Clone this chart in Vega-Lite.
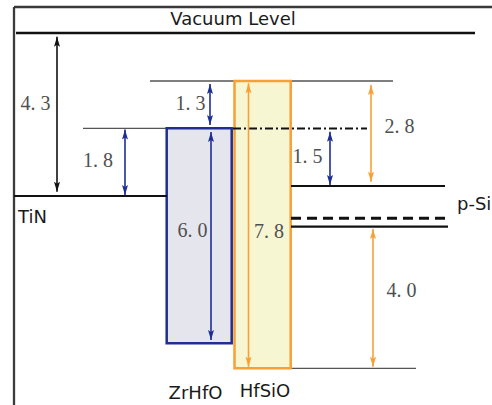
{
  "$schema": "https://vega.github.io/schema/vega-lite/v6.json",
  "width": 492,
  "height": 405,
  "padding": 0,
  "autosize": "none",
  "background": "white",
  "config": {"view": {"stroke": null}},
  "datasets": {
    "segments": [
      {"kind": "frame", "x1": 14, "x2": 492, "y1": 0.686, "y2": 0.686},
      {"kind": "frame", "x1": 14, "x2": 14, "y1": 0.686, "y2": -9.815},
      {"kind": "vacuum", "x1": 16, "x2": 475, "y1": 0, "y2": 0},
      {"kind": "black", "x1": 14, "x2": 167, "y1": -4.30, "y2": -4.30},
      {"kind": "thin", "x1": 83, "x2": 232, "y1": -2.515, "y2": -2.515},
      {"kind": "thin", "x1": 150, "x2": 393, "y1": -1.266, "y2": -1.266},
      {"kind": "thin", "x1": 291, "x2": 416, "y1": -8.847, "y2": -8.847},
      {"kind": "dashdot", "x1": 233, "x2": 367, "y1": -2.52, "y2": -2.52},
      {"kind": "black", "x1": 291, "x2": 445, "y1": -4.037, "y2": -4.037},
      {"kind": "dashed", "x1": 291, "x2": 445, "y1": -4.889, "y2": -4.889},
      {"kind": "black", "x1": 291, "x2": 448, "y1": -5.111, "y2": -5.111}
    ],
    "boxes": [
      {"name": "ZrHfO", "x1": 166.7, "x2": 231.7, "top": -2.515, "bottom": -8.187},
      {"name": "HfSiO", "x1": 234.5, "x2": 290.7, "top": -1.266, "bottom": -8.847}
    ],
    "arrows": [
      {"group": "TiN", "x": 57, "top": -0.097, "bottom": -4.19},
      {"group": "ZrHfO", "x": 125, "top": -2.546, "bottom": -4.274},
      {"group": "ZrHfO", "x": 210, "top": -1.346, "bottom": -2.427},
      {"group": "ZrHfO", "x": 211, "top": -2.612, "bottom": -8.10},
      {"group": "ZrHfO", "x": 330, "top": -2.604, "bottom": -4.011},
      {"group": "HfSiO", "x": 248.5, "top": -1.327, "bottom": -8.804},
      {"group": "HfSiO", "x": 371, "top": -1.372, "bottom": -3.923},
      {"group": "HfSiO", "x": 373, "top": -5.172, "bottom": -8.804}
    ],
    "numbers": [
      {"text": "4. 3", "x": 35.5, "y": -2.032},
      {"text": "1. 3", "x": 190.5, "y": -2.032},
      {"text": "1. 8", "x": 98, "y": -3.528},
      {"text": "6. 0", "x": 192.5, "y": -5.375},
      {"text": "7. 8", "x": 269, "y": -5.417},
      {"text": "1. 5", "x": 307.5, "y": -3.438},
      {"text": "2. 8", "x": 399.5, "y": -2.646},
      {"text": "4. 0", "x": 401.5, "y": -6.974}
    ],
    "names": [
      {"text": "Vacuum Level", "x": 233, "y": 0.211, "pos": "center"},
      {"text": "ZrHfO", "x": 195.5, "y": -9.657, "pos": "center"},
      {"text": "HfSiO", "x": 265, "y": -9.604, "pos": "center"},
      {"text": "TiN", "x": 18, "y": -5.013, "pos": "left"},
      {"text": "p-Si", "x": 457, "y": -4.670, "pos": "left"}
    ]
  },
  "layer": [
    {
      "data": {"name": "segments"},
      "transform": [{"filter": "datum.kind === 'thin'"}],
      "mark": {"type": "rule", "color": "#555555", "strokeWidth": 1.3},
      "encoding": {
        "x": {"field": "x1", "type": "quantitative", "scale": {"domain": [0, 492], "nice": false, "zero": false}, "axis": null},
        "x2": {"field": "x2"},
        "y": {"field": "y1", "type": "quantitative", "scale": {"domain": [-9.815, 0.871], "nice": false, "zero": false}, "axis": null},
        "y2": {"field": "y2"}
      }
    },
    {
      "data": {"name": "boxes"},
      "transform": [{"filter": "datum.name === 'ZrHfO'"}],
      "mark": {"type": "rect", "fill": "#e5e5ed", "stroke": "#1f2e93", "strokeWidth": 2.5},
      "encoding": {
        "x": {"field": "x1", "type": "quantitative", "scale": {"domain": [0, 492], "nice": false, "zero": false}, "axis": null},
        "x2": {"field": "x2"},
        "y": {"field": "top", "type": "quantitative", "scale": {"domain": [-9.815, 0.871], "nice": false, "zero": false}, "axis": null},
        "y2": {"field": "bottom"}
      }
    },
    {
      "data": {"name": "boxes"},
      "transform": [{"filter": "datum.name === 'HfSiO'"}],
      "mark": {"type": "rect", "fill": "#f6f6d3", "stroke": "#f7a035", "strokeWidth": 2.5},
      "encoding": {
        "x": {"field": "x1", "type": "quantitative", "scale": {"domain": [0, 492], "nice": false, "zero": false}, "axis": null},
        "x2": {"field": "x2"},
        "y": {"field": "top", "type": "quantitative", "scale": {"domain": [-9.815, 0.871], "nice": false, "zero": false}, "axis": null},
        "y2": {"field": "bottom"}
      }
    },
    {
      "data": {"name": "segments"},
      "transform": [{"filter": "datum.kind === 'frame'"}],
      "mark": {"type": "rule", "color": "#3a3a3a", "strokeWidth": 2.3},
      "encoding": {
        "x": {"field": "x1", "type": "quantitative", "scale": {"domain": [0, 492], "nice": false, "zero": false}, "axis": null},
        "x2": {"field": "x2"},
        "y": {"field": "y1", "type": "quantitative", "scale": {"domain": [-9.815, 0.871], "nice": false, "zero": false}, "axis": null},
        "y2": {"field": "y2"}
      }
    },
    {
      "data": {"name": "segments"},
      "transform": [{"filter": "datum.kind === 'vacuum'"}],
      "mark": {"type": "rule", "color": "#111111", "strokeWidth": 2.6},
      "encoding": {
        "x": {"field": "x1", "type": "quantitative", "scale": {"domain": [0, 492], "nice": false, "zero": false}, "axis": null},
        "x2": {"field": "x2"},
        "y": {"field": "y1", "type": "quantitative", "scale": {"domain": [-9.815, 0.871], "nice": false, "zero": false}, "axis": null},
        "y2": {"field": "y2"}
      }
    },
    {
      "data": {"name": "segments"},
      "transform": [{"filter": "datum.kind === 'black'"}],
      "mark": {"type": "rule", "color": "#111111", "strokeWidth": 2.2},
      "encoding": {
        "x": {"field": "x1", "type": "quantitative", "scale": {"domain": [0, 492], "nice": false, "zero": false}, "axis": null},
        "x2": {"field": "x2"},
        "y": {"field": "y1", "type": "quantitative", "scale": {"domain": [-9.815, 0.871], "nice": false, "zero": false}, "axis": null},
        "y2": {"field": "y2"}
      }
    },
    {
      "data": {"name": "segments"},
      "transform": [{"filter": "datum.kind === 'dashed'"}],
      "mark": {"type": "rule", "color": "#111111", "strokeWidth": 3, "strokeDash": [10, 6]},
      "encoding": {
        "x": {"field": "x1", "type": "quantitative", "scale": {"domain": [0, 492], "nice": false, "zero": false}, "axis": null},
        "x2": {"field": "x2"},
        "y": {"field": "y1", "type": "quantitative", "scale": {"domain": [-9.815, 0.871], "nice": false, "zero": false}, "axis": null},
        "y2": {"field": "y2"}
      }
    },
    {
      "data": {"name": "segments"},
      "transform": [{"filter": "datum.kind === 'dashdot'"}],
      "mark": {"type": "rule", "color": "#111111", "strokeWidth": 2, "strokeDash": [8, 3, 2, 3]},
      "encoding": {
        "x": {"field": "x1", "type": "quantitative", "scale": {"domain": [0, 492], "nice": false, "zero": false}, "axis": null},
        "x2": {"field": "x2"},
        "y": {"field": "y1", "type": "quantitative", "scale": {"domain": [-9.815, 0.871], "nice": false, "zero": false}, "axis": null},
        "y2": {"field": "y2"}
      }
    },
    {
      "data": {"name": "arrows"},
      "mark": {"type": "rule", "strokeWidth": 1.6},
      "encoding": {
        "x": {"field": "x", "type": "quantitative", "scale": {"domain": [0, 492], "nice": false, "zero": false}, "axis": null},
        "y": {"field": "top", "type": "quantitative", "scale": {"domain": [-9.815, 0.871], "nice": false, "zero": false}, "axis": null},
        "y2": {"field": "bottom"},
        "color": {"field": "group", "type": "nominal", "scale": {"domain": ["TiN", "ZrHfO", "HfSiO"], "range": ["#111111", "#1f2e93", "#f7a035"]}, "legend": null}
      }
    },
    {
      "data": {"name": "arrows"},
      "mark": {"type": "point", "filled": true, "opacity": 1, "size": 100, "strokeWidth": 0, "shape": "M0,0L0.6,2L0,1.6L-0.6,2Z"},
      "encoding": {
        "x": {"field": "x", "type": "quantitative", "scale": {"domain": [0, 492], "nice": false, "zero": false}, "axis": null},
        "y": {"field": "top", "type": "quantitative", "scale": {"domain": [-9.815, 0.871], "nice": false, "zero": false}, "axis": null},
        "color": {"field": "group", "type": "nominal", "scale": {"domain": ["TiN", "ZrHfO", "HfSiO"], "range": ["#111111", "#1f2e93", "#f7a035"]}, "legend": null}
      }
    },
    {
      "data": {"name": "arrows"},
      "mark": {"type": "point", "filled": true, "opacity": 1, "size": 100, "strokeWidth": 0, "shape": "M0,0L0.6,-2L0,-1.6L-0.6,-2Z"},
      "encoding": {
        "x": {"field": "x", "type": "quantitative", "scale": {"domain": [0, 492], "nice": false, "zero": false}, "axis": null},
        "y": {"field": "bottom", "type": "quantitative", "scale": {"domain": [-9.815, 0.871], "nice": false, "zero": false}, "axis": null},
        "color": {"field": "group", "type": "nominal", "scale": {"domain": ["TiN", "ZrHfO", "HfSiO"], "range": ["#111111", "#1f2e93", "#f7a035"]}, "legend": null}
      }
    },
    {
      "data": {"name": "numbers"},
      "mark": {"type": "text", "font": "Liberation Serif", "fontSize": 20, "color": "#505050", "align": "center", "baseline": "alphabetic"},
      "encoding": {
        "x": {"field": "x", "type": "quantitative", "scale": {"domain": [0, 492], "nice": false, "zero": false}, "axis": null},
        "y": {"field": "y", "type": "quantitative", "scale": {"domain": [-9.815, 0.871], "nice": false, "zero": false}, "axis": null},
        "text": {"field": "text"}
      }
    },
    {
      "data": {"name": "names"},
      "transform": [{"filter": "datum.pos === 'center'"}],
      "mark": {"type": "text", "font": "DejaVu Sans", "fontSize": 18, "color": "#1a1a1a", "align": "center", "baseline": "alphabetic"},
      "encoding": {
        "x": {"field": "x", "type": "quantitative", "scale": {"domain": [0, 492], "nice": false, "zero": false}, "axis": null},
        "y": {"field": "y", "type": "quantitative", "scale": {"domain": [-9.815, 0.871], "nice": false, "zero": false}, "axis": null},
        "text": {"field": "text"}
      }
    },
    {
      "data": {"name": "names"},
      "transform": [{"filter": "datum.pos === 'left'"}],
      "mark": {"type": "text", "font": "DejaVu Sans", "fontSize": 18, "color": "#1a1a1a", "align": "left", "baseline": "alphabetic"},
      "encoding": {
        "x": {"field": "x", "type": "quantitative", "scale": {"domain": [0, 492], "nice": false, "zero": false}, "axis": null},
        "y": {"field": "y", "type": "quantitative", "scale": {"domain": [-9.815, 0.871], "nice": false, "zero": false}, "axis": null},
        "text": {"field": "text"}
      }
    }
  ]
}
